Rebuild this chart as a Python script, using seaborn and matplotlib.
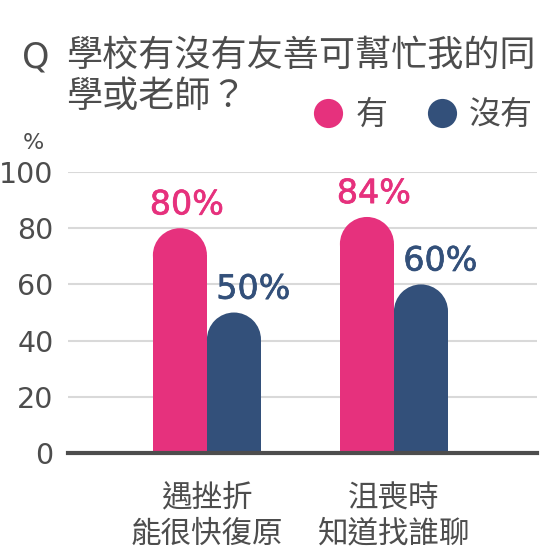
import pandas as pd
import matplotlib.pyplot as plt
import matplotlib.patheffects as pe
import seaborn as sns
from matplotlib.patches import Ellipse
from matplotlib.lines import Line2D

# data
categories = ["遇挫折\n能很快復原", "沮喪時\n知道找誰聊"]
answers = ["有", "沒有"]
yes_values = [80, 84]
no_values = [50, 60]
yticks = [0, 20, 40, 60, 80, 100]

palette = {"有": "#E6317D", "沒有": "#33507A"}
gray = "#4D4D4D"

df = pd.DataFrame({
    "category": categories * 2,
    "answer": [answers[0]] * len(categories) + [answers[1]] * len(categories),
    "value": yes_values + no_values,
})

sns.set_theme(style="white")
plt.rcParams["font.family"] = ["DejaVu Sans", "Noto Sans CJK TC"]
cjk = ["Noto Sans CJK TC", "DejaVu Sans"]

fig = plt.figure(figsize=(5.43, 5.52), dpi=100)
ax = fig.add_axes([0.1252, 0.1793, 0.8638, 0.5091])

sns.barplot(data=df, x="category", y="value", hue="answer", palette=palette,
            width=0.578, gap=0, saturation=1, linewidth=0, legend=False, ax=ax)

ax.set_xlim(-0.743, 1.765)
ax.set_ylim(0, 100)
ax.set_yticks(yticks)
ax.set_xlabel("")
ax.set_ylabel("")

# grid + spines
ax.yaxis.grid(True, color="#D9D9D9", lw=1.5)
ax.set_axisbelow(True)
for s in ["left", "right", "top"]:
    ax.spines[s].set_visible(False)
ax.spines["bottom"].set_color(gray)
ax.spines["bottom"].set_linewidth(3)

ax.tick_params(axis="y", length=0, pad=10.5, labelsize=20.5, labelcolor=gray)
ax.tick_params(axis="x", length=0, pad=22)
for lbl in ax.get_xticklabels():
    lbl.set_fontfamily(cjk)
    lbl.set_fontsize(22)
    lbl.set_color(gray)
    lbl.set_linespacing(1.17)

# rounded tops
px_x = ax.transData.transform((1, 0))[0] - ax.transData.transform((0, 0))[0]
px_y = ax.transData.transform((0, 1))[1] - ax.transData.transform((0, 0))[1]
for bar in list(ax.patches):
    x, w, h = bar.get_x(), bar.get_width(), bar.get_height()
    ry = (w * px_x / 2) / px_y
    bar.set_height(h - ry)
    ax.add_patch(Ellipse((x + w / 2, h - ry), w, 2 * ry,
                         facecolor=bar.get_facecolor(), lw=0))

# value labels
offsets = [5, 14]
for cont, ans, dx in zip(ax.containers, answers, offsets):
    vals = df[df.answer == ans].value.tolist()
    for bar, val in zip(cont, vals):
        x, w = bar.get_x(), bar.get_width()
        t = ax.annotate(f"{val}%", (x + w / 2, val), xytext=(dx, 10),
                        textcoords="offset points", ha="center", va="baseline",
                        fontsize=24, color=palette[ans])
        t.set_path_effects([pe.withStroke(linewidth=0.5, foreground=palette[ans])])

# titles
fig.text(22 / 543, 1 - 57 / 552, "Q", fontsize=25, color=gray, va="center")
fig.text(66 / 543, 1 - 56 / 552, "學校有沒有友善可幫忙我的同", fontsize=26,
         color=gray, va="center", family=cjk)
fig.text(66 / 543, 1 - 97 / 552, "學或老師？", fontsize=26,
         color=gray, va="center", family=cjk)
fig.text(33 / 543, 1 - 143 / 552, "%", fontsize=16, color=gray,
         ha="center", va="center")

# legend
handles = [Line2D([], [], marker="o", ls="", markersize=21,
                  markerfacecolor=palette[a], markeredgewidth=0) for a in answers]
leg = fig.legend(handles, answers, loc="center left",
                 bbox_to_anchor=(314 / 543, 1 - 115 / 552), ncol=2,
                 frameon=False, borderpad=0, borderaxespad=0,
                 handlelength=0.9, handletextpad=0.4, columnspacing=1.25,
                 prop={"family": cjk, "size": 23})
for t in leg.get_texts():
    t.set_color(gray)

fig.savefig("out.png", dpi=100)
